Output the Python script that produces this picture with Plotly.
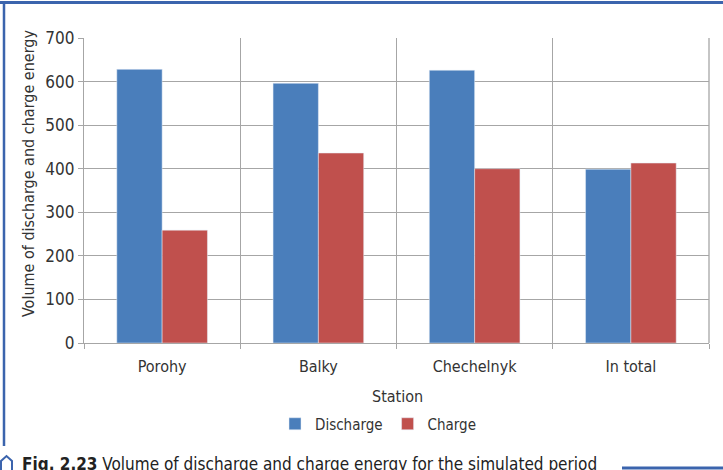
import plotly.graph_objects as go

stations = ["Porohy", "Balky", "Chechelnyk", "In total"]
discharge = [628, 596, 626, 399]
charge = [259, 436, 400, 413]
y_ticks = [0, 100, 200, 300, 400, 500, 600, 700]

FONT = "DejaVu Sans Condensed, DejaVu Sans, sans-serif"
GRID = "#a6a6a6"
FRAME = "#3b64ad"
TXT = "#333333"

fig = go.Figure()
fig.add_trace(go.Bar(name="Discharge", x=stations, y=discharge, marker_color="#4a7ebb"))
fig.add_trace(go.Bar(name="Charge", x=stations, y=charge, marker_color="#c0504d"))

W, H = 723, 470
L, R, T, B = 84, 14, 38, 127
pw, ph = W - L - R, H - T - B

def px(x):
    return (x - L) / pw

def py(y):
    return (H - B - y) / ph

house = "M {},{} L {},{} L {},{} L {},{} L {},{}".format(
    px(1), py(472), px(1), py(461), px(6.5), py(456), px(12), py(461), px(12), py(472))

fig.update_layout(
    width=W, height=H,
    margin=dict(l=L, r=R, t=T, b=B),
    paper_bgcolor="white", plot_bgcolor="white",
    barmode="group", bargap=0.42, bargroupgap=0,
    font=dict(family=FONT, size=15, color=TXT),
    showlegend=True,
    legend=dict(orientation="h", x=px(378), xanchor="center", y=py(424), yanchor="middle",
                font=dict(size=15, color=TXT), traceorder="normal"),
    xaxis=dict(
        type="category", tickson="boundaries", ticks="outside", ticklen=5, tickcolor=GRID,
        showgrid=True, gridcolor=GRID, gridwidth=1.3,
        showline=True, linecolor=GRID, linewidth=1.3,
        tickfont=dict(size=16, color=TXT), ticklabelstandoff=9,
    ),
    yaxis=dict(
        range=[0, 700], tickvals=y_ticks, ticks="outside", ticklen=5, tickcolor=GRID,
        showgrid=True, gridcolor=GRID, gridwidth=1.3, zeroline=False,
        showline=True, linecolor=GRID, linewidth=1.3,
        tickfont=dict(size=17, color=TXT),
    ),
    shapes=[
        dict(type="line", xref="paper", yref="paper", x0=px(0), x1=px(723), y0=py(2.5), y1=py(2.5),
             line=dict(color=FRAME, width=3)),
        dict(type="line", xref="paper", yref="paper", x0=px(4), x1=px(4), y0=py(1), y1=py(446),
             line=dict(color=FRAME, width=2.5)),
        dict(type="line", xref="paper", yref="paper", x0=px(622), x1=px(723), y0=py(468), y1=py(468),
             line=dict(color=FRAME, width=3)),
        dict(type="line", xref="paper", yref="paper", x0=px(709), x1=px(709), y0=py(38), y1=py(343),
             line=dict(color=GRID, width=1.3)),
        dict(type="path", xref="paper", yref="paper", path=house,
             line=dict(color=FRAME, width=2), fillcolor="rgba(0,0,0,0)"),
    ],
    annotations=[
        dict(text="Station", xref="paper", yref="paper", x=px(397), y=py(396),
             xanchor="center", yanchor="middle", showarrow=False,
             font=dict(size=16, color=TXT)),
        dict(text="Volume of discharge and charge energy", xref="paper", yref="paper",
             x=px(28), y=py(174), xanchor="center", yanchor="middle", textangle=-90,
             showarrow=False, font=dict(size=16, color=TXT)),
        dict(text="<b>Fig. 2.23</b> Volume of discharge and charge energy for the simulated period",
             xref="paper", yref="paper", x=px(20), y=py(464), xanchor="left", yanchor="middle",
             showarrow=False, font=dict(size=17, color="#222222")),
    ],
)

fig.write_html("out.html", config={"displayModeBar": False},
               post_script="document.body.style.margin='0';")
